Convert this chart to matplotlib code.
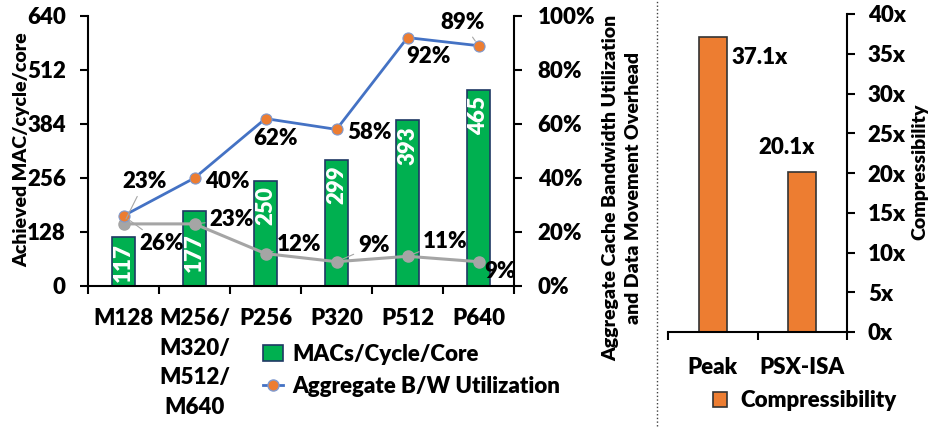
import matplotlib

matplotlib.use("Agg")
import matplotlib.pyplot as plt
from matplotlib.lines import Line2D
from matplotlib.patches import Patch

plt.rcParams["font.family"] = ["Lato", "DejaVu Sans"]
plt.rcParams["font.weight"] = "heavy"
plt.rcParams["axes.labelweight"] = "heavy"
plt.rcParams["font.size"] = 16

configs = ["M128", "M256/\nM320/\nM512/\nM640", "P256", "P320", "P512", "P640"]
macs = [117, 177, 250, 299, 393, 465]
bw_util = [26, 40, 62, 58, 92, 89]
overhead = [23, 23, 12, 9, 11, 9]

comp_names = ["Peak", "PSX-ISA"]
comp_values = [37.1, 20.1]

GREEN = "#00B050"
NAVY = "#1F3864"
BLUE = "#4472C4"
ORANGE = "#ED7D31"
GREY = "#A5A5A5"
FS = 16

W, H = 930, 430
fig = plt.figure(figsize=(W / 100, H / 100), dpi=100)


def frac(x0, y0, x1, y1):
    # pixel box (top-left origin) -> figure fraction rect
    return [x0 / W, 1 - y1 / H, (x1 - x0) / W, (y1 - y0) / H]


# ---- left panel: throughput bars + utilisation lines
ax = fig.add_axes(frac(88, 16, 514, 286))
xs = list(range(len(configs)))
ax.bar(xs, macs, width=0.32, color=GREEN, edgecolor=NAVY, linewidth=1.2, zorder=2)
bar_label_drop = [6, 22, 6, 6, 6, 6]
for x, v, drop in zip(xs, macs, bar_label_drop):
    ax.annotate(str(v), (x, v), xytext=(0, -drop), textcoords="offset pixels",
                rotation=90, ha="center", va="top", color="white", fontsize=FS, zorder=3)

ax.set_xlim(-0.5, len(configs) - 0.5)
ax.set_ylim(0, 640)
ax.set_yticks(range(0, 641, 128))
ax.set_xticks(xs)
ax.set_xticklabels(configs, linespacing=1.5)
ax.set_xticks([i - 0.5 for i in range(len(configs) + 1)], minor=True)
ax.tick_params(axis="x", which="major", length=0, pad=16)
ax.tick_params(axis="x", which="minor", length=6, width=1.5, direction="out")
ax.tick_params(axis="y", length=6, width=1.5, direction="out", pad=10)
for side in ("top", "right"):
    ax.spines[side].set_visible(False)
for side in ("left", "bottom"):
    ax.spines[side].set_linewidth(1.5)

ax2 = ax.twinx()
ax2.set_ylim(0, 100)
ax2.set_yticks(range(0, 101, 20))
ax2.set_yticklabels([f"{t}%" for t in range(0, 101, 20)])
ax2.tick_params(axis="y", length=6, width=1.5, direction="out", pad=11)
for side in ("top", "left", "bottom"):
    ax2.spines[side].set_visible(False)
ax2.spines["right"].set_linewidth(1.5)

ax2.plot(xs, overhead, color=GREY, lw=2.2, marker="o", ms=8, mfc=GREY, mec=GREY, zorder=3)
ax2.plot(xs, bw_util, color=BLUE, lw=2, marker="o", ms=8, mfc=ORANGE, mec="#7F9AD0",
         mew=0.8, zorder=4)

# label offsets in pixels from each marker, and whether a leader line is drawn
util_offsets = [(38, -28, True), (33, -3, False), (10, -20, False),
                (33, -3, False), (21, -19, False), (-16, 23, True)]
over_offsets = [(21, 42, True), (37, 4, True), (34, 9, True),
                (37, 16, True), (38, 15, True), (21, -10, False)]

for series, offsets in ((bw_util, util_offsets), (overhead, over_offsets)):
    for x, v, (dx, dy, leader) in zip(xs, series, offsets):
        props = None
        if leader:
            props = dict(arrowstyle="-", color=GREY, lw=0.8, shrinkA=1, shrinkB=4)
        ax2.annotate(f"{v}%", (x, v), xytext=(dx, dy), textcoords="offset pixels",
                     ha="center", va="center", fontsize=FS, arrowprops=props, zorder=5)

fig.text(22 / W, 1 - 150 / H, "Achieved MAC/cycle/core", rotation=90,
         ha="center", va="center", fontsize=14)
fig.text(622 / W, 1 - 188 / H,
         "Aggregate Cache Bandwidth Utilization\nand Data Movement Overhead",
         rotation=90, ha="center", va="center", fontsize=14, linespacing=1.45)

left_handles = [
    Patch(facecolor=GREEN, edgecolor=NAVY, linewidth=1.2),
    Line2D([], [], color=BLUE, lw=2, marker="o", ms=8, mfc=ORANGE, mec="#7F9AD0"),
]
fig.legend(left_handles, ["MACs/Cycle/Core", "Aggregate B/W Utilization"],
           loc="upper left", bbox_to_anchor=(263 / W, 1 - 344 / H), frameon=False,
           fontsize=FS, handlelength=0.9, handleheight=0.7, handletextpad=0.4,
           labelspacing=0.5, borderpad=0, borderaxespad=0)

# separator between the two panels
fig.add_artist(Line2D([657 / W, 657 / W], [0.01, 1.0], transform=fig.transFigure,
                      ls=":", color="#404040", lw=1))

# ---- right panel: compressibility
cx = fig.add_axes(frac(668, 14, 847, 332))
cpos = list(range(len(comp_names)))
cx.bar(cpos, comp_values, width=0.31, color=ORANGE, edgecolor="#333333", linewidth=1.2)
cx.set_xlim(-0.5, len(comp_names) - 0.5)
cx.set_ylim(0, 40)
cx.yaxis.tick_right()
cx.set_yticks(range(0, 41, 5))
cx.set_yticklabels([f"{t}x" for t in range(0, 41, 5)])
cx.set_xticks(cpos)
cx.set_xticklabels(comp_names)
cx.set_xticks([-0.5, 0.5, 1.5], minor=True)
cx.tick_params(axis="x", which="major", length=0, pad=18)
cx.tick_params(axis="x", which="minor", length=6, width=1.5, direction="out")
cx.tick_params(axis="y", length=6, width=1.5, direction="out", pad=9)
for side in ("top", "left"):
    cx.spines[side].set_visible(False)
for side in ("right", "bottom"):
    cx.spines[side].set_linewidth(1.5)
fig.text(920 / W, 1 - 172 / H, "Compressibility", rotation=90,
         ha="center", va="center", fontsize=14)

comp_offsets = [(47, -20), (-16, 25)]
for x, v, (dx, dy) in zip(cpos, comp_values, comp_offsets):
    cx.annotate(f"{v}x", (x, v), xytext=(dx, dy), textcoords="offset pixels",
                ha="center", va="center", fontsize=FS)

fig.legend([Patch(facecolor=ORANGE, edgecolor="#333333", linewidth=1.2)], ["Compressibility"],
           loc="upper left", bbox_to_anchor=(713 / W, 1 - 390 / H), frameon=False,
           fontsize=FS, handlelength=0.65, handleheight=0.65, handletextpad=0.6,
           borderpad=0, borderaxespad=0)

fig.savefig("out.png", dpi=100)
